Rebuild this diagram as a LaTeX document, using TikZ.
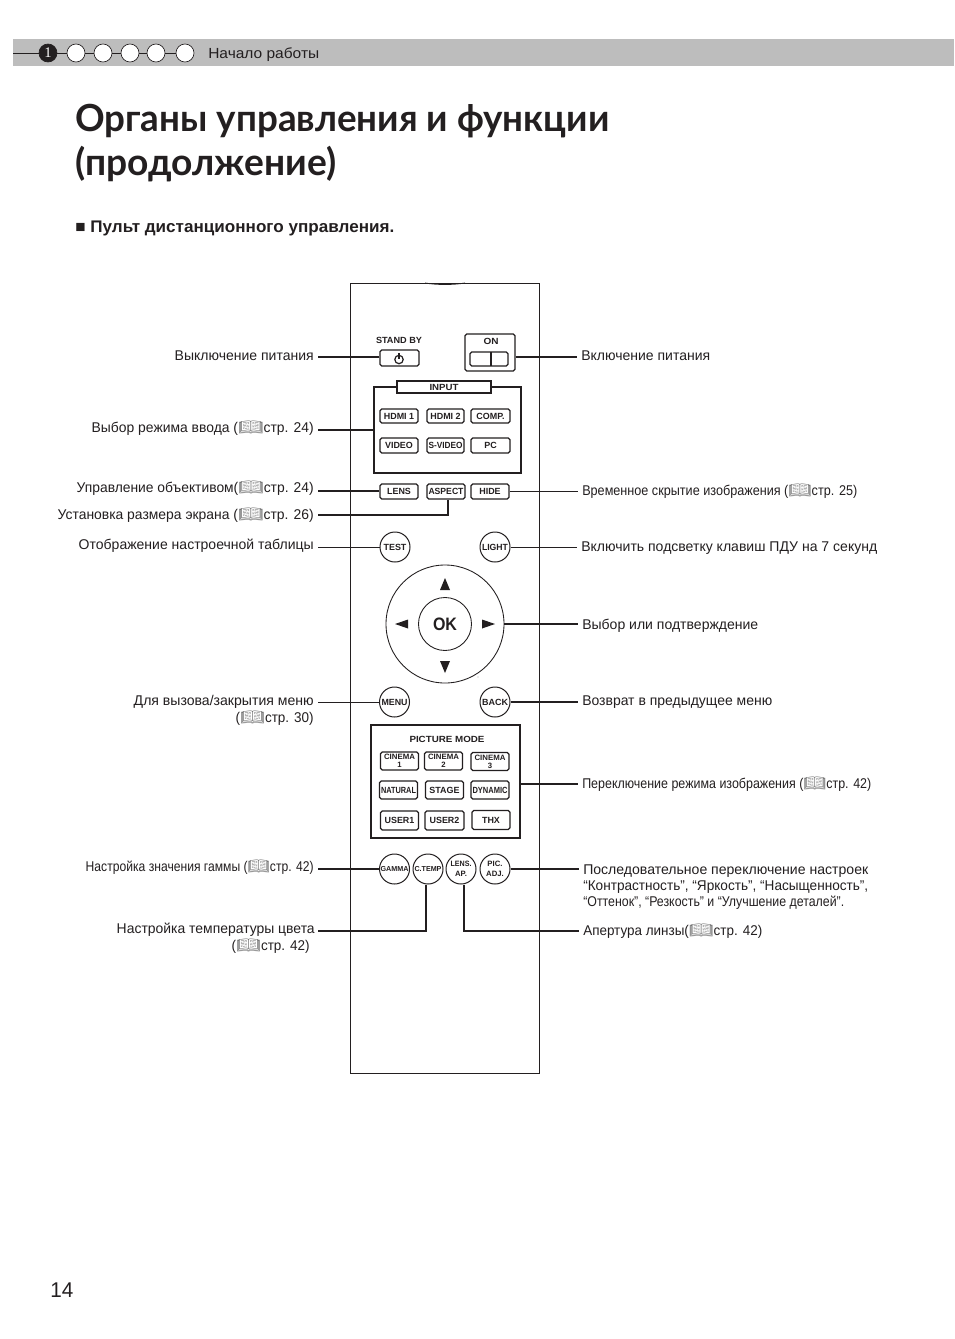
\documentclass[tikz,border=0pt]{standalone}
\usepackage{fontspec}
\usepackage{graphicx}
\setmainfont{Liberation Sans}
\newfontfamily\titlefont{Lato}
\newfontfamily\emojifont{Noto Emoji}
\newfontfamily\serifone{Liberation Serif}
\newlength\pxu \setlength\pxu{.75pt}
\definecolor{ink}{HTML}{231F20}
\definecolor{band}{HTML}{BDBDBD}
\newcommand\fw[2]{\resizebox{#1\pxu}{\height}{#2}}
\newcommand\bk{{\emojifont\color{black!55}\resizebox{26\pxu}{11.5\pxu}{📖}}}
\newcommand\bt[1]{{\fontsize{6.7pt}{6.7pt}\selectfont\bfseries #1}}
\newcommand\btn[1]{{\fontsize{5.4pt}{5.6pt}\selectfont\bfseries #1}}
\tikzset{
  pg/.style={font=\fontsize{10.6pt}{12.75pt}\selectfont,text=ink,inner ysep=0pt,inner xsep=4\pxu},
  lbl/.style={pg,anchor=base east},
  lbr/.style={pg,anchor=base west},
  key/.style n args={2}{draw=ink,line width=.85pt,rounded corners=1.3pt,fill=white,inner sep=0pt,text=ink,
     minimum width=#1\pxu,minimum height=#2\pxu,align=center},
  rnd/.style={draw=ink,line width=.75pt,circle,fill=white,inner sep=0pt,text=ink,minimum size=30\pxu,align=center},
  two/.style={font=\fontsize{5.8pt}{5.9pt}\selectfont\bfseries},
  thk/.style={draw=ink,line width=1.25pt,line cap=butt},
  thn/.style={draw=ink,line width=.7pt},
  dial/.style={draw=ink,line width=.65pt,circle,inner sep=0pt,text=ink},
  arw/.style={fill=ink,draw=none},
  dot/.style={circle,draw=ink,line width=.5pt,fill=white,minimum size=18\pxu,inner sep=0pt},
}
\begin{document}
\begin{tikzpicture}[x=.75pt,y=-.75pt]
\useasboundingbox (0,0) rectangle (954,1339);
\fill[white] (0,0) rectangle (954,1339);
% header
\fill[band] (13,39) rectangle (954,66);
\coordinate (hl) at (13,53);
\node[dot,fill=ink] (d1) at (48,53) {\textcolor{white}{\fontsize{11pt}{11pt}\selectfont\serifone 1}};
\node[dot] (d2) at (76,53) {};
\node[dot] (d3) at (103,53) {};
\node[dot] (d4) at (130,53) {};
\node[dot] (d5) at (156,53) {};
\node[dot] (d6) at (185,53) {};
\draw[ink,line width=.7pt] (hl) -- (d1) (d1) -- (d2) (d2) -- (d3) (d3) -- (d4) (d4) -- (d5) (d5) -- (d6);
\node[lbr,inner xsep=0pt,font=\fontsize{11pt}{12pt}\selectfont] (hdr) at (208,58) {\fw{111}{Начало работы}};
% title
\node[anchor=base west,inner sep=0pt,text=ink,font=\titlefont\bfseries\fontsize{28pt}{28pt}\selectfont] (t1) at (75,131) {\fw{534}{Органы управления и функции}};
\node[anchor=base west,inner sep=0pt,text=ink,font=\titlefont\bfseries\fontsize{28pt}{28pt}\selectfont] (t2) at (75,175) {\fw{261}{(продолжение)}};
\node[anchor=base west,inner sep=0pt,text=ink,font=\bfseries\fontsize{12.6pt}{12.6pt}\selectfont] (sec) at (75,232) {\fw{319}{■ Пульт дистанционного управления.}};
\node[anchor=base west,inner sep=0pt,text=ink,font=\fontsize{16pt}{16pt}\selectfont] (pg) at (50,1297) {\fw{23}{14}};
% remote body
\node[draw=ink,line width=.6pt,minimum width=189\pxu,minimum height=790\pxu,inner sep=0pt] (body) at (445,678) {};
\draw[ink,line width=.6pt] (425,283) .. controls (437,285) and (453,285) .. (465,283);
% stand by / on
\node[text=ink,inner sep=0pt] (sbl) at (399,340) {\bt{\fw{46}{STAND BY}}};
\node[key={39}{16}] (sb) at (399.5,358) {};
\draw[ink,line width=.9pt] (399,353) -- (399,359);
\draw[ink,line width=.9pt] (399,359.5) circle (4.2);
\node[key={50}{37}] (onf) at (490,352.5) {};
\node[text=ink,inner sep=0pt] (onl) at (491,341.5) {\bt{\fw{15}{ON}}};
\node[key={38}{14}] (onb) at (489,359) {};
\draw[ink,line width=1.4pt] (491,352) -- (491,366);
% input
\node[draw=ink,line width=.8pt,minimum width=147\pxu,minimum height=86\pxu,inner sep=0pt] (inp) at (447.5,430) {};
\draw[ink,line width=1.3pt] (inp.north west) -- (inp.north east) -- (inp.south east);
\node[key={94}{12},rounded corners=0pt] (inl) at (444,387) {\bt{\fw{29}{INPUT}}};
\node[key={38}{14}] (k1) at (399,416) {\bt{HDMI 1}};
\node[key={37}{14}] (k2) at (445.5,416) {\bt{HDMI 2}};
\node[key={39}{14}] (k3) at (490.5,416) {\bt{COMP.}};
\node[key={38}{15}] (k4) at (399,445.5) {\bt{VIDEO}};
\node[key={37}{15}] (k5) at (445.5,445.5) {\bt{\fw{34}{S-VIDEO}}};
\node[key={39}{15}] (k6) at (490.5,445.5) {\bt{PC}};
\node[key={38}{15}] (lens) at (399,491.5) {\bt{LENS}};
\node[key={38}{15}] (asp) at (446,491.5) {\bt{\fw{35}{ASPECT}}};
\node[key={38}{15}] (hide) at (490,491.5) {\bt{HIDE}};
\node[rnd] (test) at (395,547) {\bt{TEST}};
\node[rnd] (light) at (495,547) {\bt{\fw{26}{LIGHT}}};
% dial
\node[dial,minimum size=118\pxu] (ring) at (445,624) {};
\node[dial,minimum size=53\pxu,font=\bfseries\fontsize{13.5pt}{13.5pt}\selectfont] (ok) at (445,624) {\fw{24}{OK}};
\fill[arw] (445,578) -- (440,590) -- (450,590) -- cycle;
\fill[arw] (445,673) -- (440,661) -- (450,661) -- cycle;
\fill[arw] (395,624) -- (408,619.5) -- (408,628.5) -- cycle;
\fill[arw] (495,624) -- (482,619.5) -- (482,628.5) -- cycle;
\fill[ink] (478,677) circle (.4);
\node[rnd] (menu) at (394.5,702) {\bt{\fw{26}{MENU}}};
\node[rnd] (back) at (495,702) {\bt{\fw{26}{BACK}}};
% picture mode
\node[draw=ink,line width=.8pt,minimum width=149\pxu,minimum height=113\pxu,inner sep=0pt] (pm) at (445.5,781.5) {};
\node[text=ink,inner sep=0pt] (pml) at (447,739.5) {\bt{\fw{75}{PICTURE MODE}}};
\node[key={38}{18},two] (c1) at (399.5,761) {\fw{31}{CINEMA}\\1};
\node[key={38}{18},two] (c2) at (443.5,761) {\fw{31}{CINEMA}\\2};
\node[key={38}{18},two] (c3) at (490,761.5) {\fw{31}{CINEMA}\\3};
\node[key={38}{18}] (nat) at (398.5,790) {\bt{\fw{35}{NATURAL}}};
\node[key={38}{18}] (sta) at (444.5,790) {\bt{STAGE}};
\node[key={38}{18}] (dyn) at (490,790) {\bt{\fw{35}{DYNAMIC}}};
\node[key={38}{19}] (u1) at (399.5,820.5) {\bt{USER1}};
\node[key={39}{19}] (u2) at (444.5,820.5) {\bt{USER2}};
\node[key={38}{19}] (thx) at (491,820) {\raisebox{-1pt}{\bt{THX}}};
% circles row
\node[rnd] (gam) at (394.5,869) {\btn{\fw{28}{GAMMA}}};
\node[rnd] (tmp) at (428,869) {\btn{\fw{27}{C.TEMP}}};
\node[rnd,two] (lap) at (461,869) {\fw{21}{LENS.}\\[1.5pt]AP.};
\node[rnd,two] (pic) at (495,869) {PIC.\\[1.5pt]ADJ.};
% left labels
\node[lbl] (la) at (318,360) {\fw{139}{Выключение питания}};
\node[lbl] (lb) at (318,432) {\fw{222}{Выбор режима ввода (\bk стр. 24)}};
\node[lbl] (lc) at (318,492) {\fw{237}{Управление объективом(\bk стр. 24)}};
\node[lbl] (ld) at (318,519) {\fw{256}{Установка размера экрана (\bk стр. 26)}};
\node[lbl] (le) at (318,549) {\fw{235}{Отображение настроечной таблицы}};
\node[lbl,align=right,anchor=east] (lf) at (318,710) {\fw{180}{Для вызова/закрытия меню}\\\fw{78}{(\bk стр. 30)}};
\node[lbl] (lg) at (318,871) {\fw{228}{Настройка значения гаммы (\bk стр. 42)}};
\node[lbl,align=right,anchor=east] (lh) at (319,938) {\fw{198}{Настройка температуры цвета}\\\fw{78}{(\bk стр. 42)}\hspace*{5\pxu}};
\coordinate (lhc) at (318,931);
% right labels
\node[lbr] (ra) at (577,360) {\fw{129}{Включение питания}};
\node[lbr] (rb) at (578,495) {\fw{275}{Временное скрытие изображения (\bk стр. 25)}};
\node[lbr] (rc) at (577,551) {\fw{296}{Включить подсветку клавиш ПДУ на 7 секунд}};
\node[lbr] (rd) at (578,629) {\fw{176}{Выбор или подтверждение}};
\node[lbr] (re) at (578,705) {\fw{190}{Возврат в предыдущее меню}};
\node[lbr] (rf) at (578,788) {\fw{289}{Переключение режима изображения (\bk стр. 42)}};
\node[lbr,anchor=west,align=left] (rg) at (579,887) {\fw{285}{Последовательное переключение настроек}\\[-.4pt]\fw{285}{“Контрастность”, “Яркость”, “Насыщенность”,}\\[-1pt]\fw{261}{“Оттенок”, “Резкость” и “Улучшение деталей”.}};
\node[lbr] (rh) at (579,935) {\fw{179}{Апертура линзы(\bk стр. 42)}};
% connectors
\draw[thk] ([yshift=.75pt]sb.west) -- ([yshift=.75pt]sb.west -| la.east);
\draw[thk] (inp.west) -- (inp.west -| lb.east);
\draw[thk] ([yshift=.375pt]lens.west) -- ([yshift=.375pt]lens.west -| lc.east);
\draw[thk] ([xshift=1.5pt]asp.south) |- (ld.east);
\draw[thn] (test.west) -- (test.west -| le.east);
\draw[thn] (menu.west) -- (menu.west -| lf.east);
\draw[thk] (gam.west) -- (gam.west -| lg.east);
\draw[thk] ([xshift=-1.5pt]tmp.south) |- (lhc);
\draw[thk] ([yshift=-3.375pt]onf.east) -- ([yshift=-3.375pt]onf.east -| ra.west);
\draw[thn] ([yshift=.375pt]hide.east) -- ([yshift=.375pt]hide.east -| rb.west);
\draw[thn] (light.east) -- (light.east -| rc.west);
\draw[thk] (ring.east) -- (ring.east -| rd.west);
\draw[thk] (back.east) -- (back.east -| re.west);
\draw[thk] (pm.east |- rf.west) -- (rf.west);
\draw[thk] (pic.east) -- (pic.east -| rg.west);
\draw[thk] ([xshift=2.25pt]lap.south) |- (rh.west);
\end{tikzpicture}
\end{document}
